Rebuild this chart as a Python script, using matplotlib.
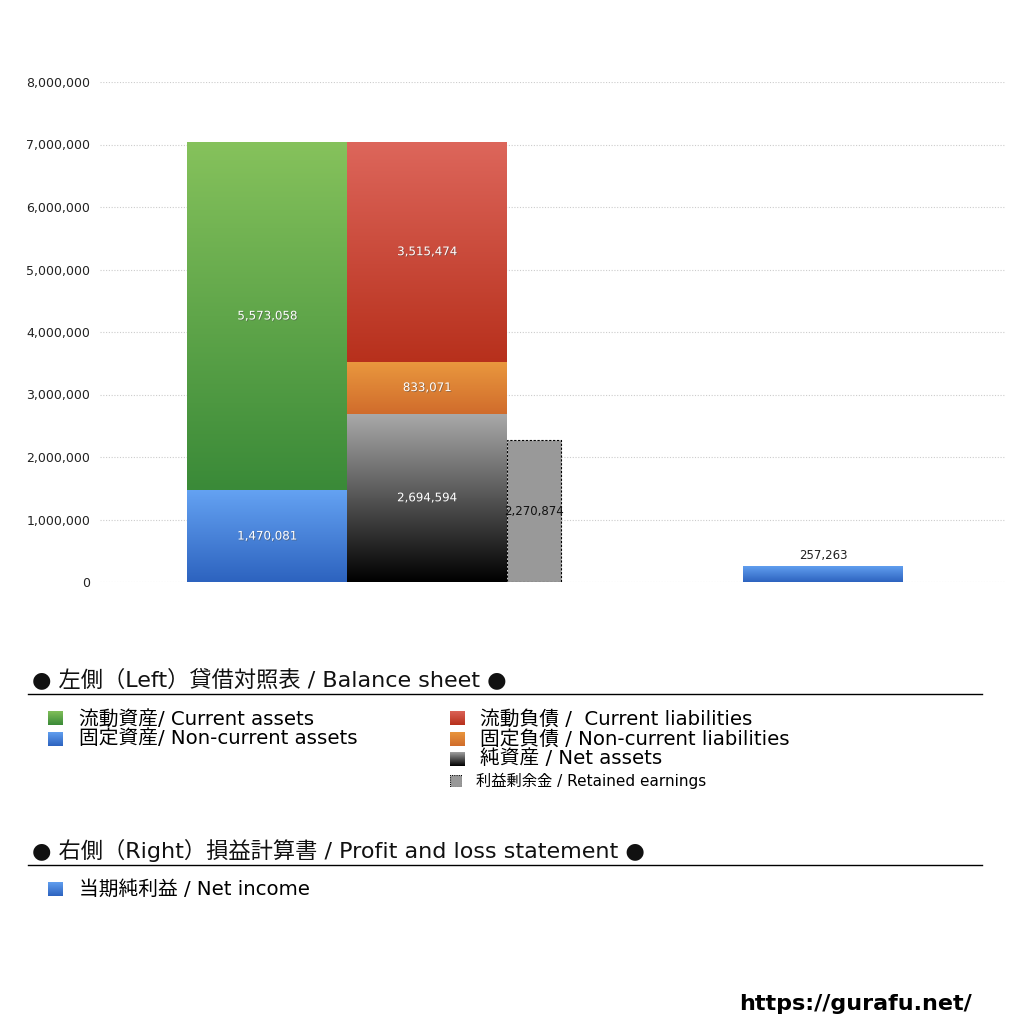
import numpy as np
import matplotlib
matplotlib.use("Agg")
import matplotlib.pyplot as plt
from matplotlib.colors import LinearSegmentedColormap
from matplotlib.patches import Rectangle
import matplotlib.patheffects as pe

plt.rcParams['font.family'] = ['DejaVu Sans', 'Noto Sans CJK JP']

# data
current_assets = 5573058
noncurrent_assets = 1470081
current_liab = 3515474
noncurrent_liab = 833071
net_assets = 2694594
retained_earnings = 2270874
net_income = 257263
yticks = [0, 1000000, 2000000, 3000000, 4000000, 5000000, 6000000, 7000000, 8000000]

colors = {
    'green': ('#86c25c', '#3a8a38'),
    'blue': ('#64a2f2', '#2d63bf'),
    'red': ('#dd665b', '#b7301c'),
    'orange': ('#ea983e', '#d06c2c'),
    'black': ('#aaaaaa', '#000000'),
}

fig = plt.figure(figsize=(10.24, 10.24), dpi=100)
ax = fig.add_axes([100/1024, 1 - 582/1024, 905/1024, 500/1024])


def grad_bar(ax, x, bottom, height, width, cols, label=None, tcolor='white'):
    top_c, bot_c = cols
    bar = ax.bar(x, height, width, bottom=bottom, align='edge', color='none', linewidth=0)[0]
    cmap = LinearSegmentedColormap.from_list('g', [bot_c, top_c])
    grad = np.linspace(0, 1, 256).reshape(-1, 1)
    im = ax.imshow(grad, cmap=cmap, origin='lower', aspect='auto',
                   extent=[x, x + width, bottom, bottom + height], zorder=2)
    im.set_clip_path(bar)
    if label is not None:
        ax.text(x + width / 2, bottom + height / 2, label, ha='center', va='center',
                color=tcolor, fontsize=8.5, zorder=5,
                path_effects=[pe.withSimplePatchShadow(offset=(0.6, -0.6), alpha=0.5)])


fmt = lambda v: f"{v:,}"

# left: assets
grad_bar(ax, 187, 0, noncurrent_assets, 160, colors['blue'], fmt(noncurrent_assets))
grad_bar(ax, 187, noncurrent_assets, current_assets, 160, colors['green'], fmt(current_assets))
# left: liabilities + net assets
grad_bar(ax, 347, 0, net_assets, 160, colors['black'], fmt(net_assets))
grad_bar(ax, 347, net_assets, noncurrent_liab, 160, colors['orange'], fmt(noncurrent_liab))
grad_bar(ax, 347, net_assets + noncurrent_liab, current_liab, 160, colors['red'], fmt(current_liab))
# retained earnings
ax.bar(507, retained_earnings, 54, align='edge', color='#999999', edgecolor='black',
       linestyle=(0, (2, 1.5)), linewidth=0.8, zorder=3)
ax.text(507 + 27, retained_earnings / 2, fmt(retained_earnings), ha='center', va='center',
        fontsize=8.5, color='#111111', zorder=5)
# right: net income
grad_bar(ax, 743, 0, net_income, 160, colors['blue'])
ax.text(743 + 80, net_income + 60000, fmt(net_income), ha='center', va='bottom',
        fontsize=8.5, color='#222222')

ax.set_xlim(100, 1005)
ax.set_ylim(0, 8000000)
ax.set_yticks(yticks)
ax.set_yticklabels([fmt(v) for v in yticks], fontsize=9, color='#222222')
ax.set_xticks([])
ax.tick_params(axis='y', length=0, pad=7)
for s in ax.spines.values():
    s.set_visible(False)
ax.yaxis.grid(True, linestyle=(0, (1, 1.5)), color='#cccccc', linewidth=0.8)
ax.set_axisbelow(True)


# legend area (figure pixel coordinates)
def fy(py):
    return 1 - py / 1024


def fx(px):
    return px / 1024


def legend_square(px, py, cols, size=15, dashed=False):
    lax = fig.add_axes([fx(px), fy(py + size / 2), size / 1024, size / 1024])
    lax.set_axis_off()
    if dashed:
        lax.add_patch(Rectangle((0, 0), 1, 1, facecolor='#999999', edgecolor='black',
                                linestyle=(0, (1, 1)), linewidth=0.8, transform=lax.transAxes))
    else:
        cmap = LinearSegmentedColormap.from_list('g', [cols[1], cols[0]])
        lax.imshow(np.linspace(0, 1, 64).reshape(-1, 1), cmap=cmap, origin='lower',
                   aspect='auto', extent=[0, 1, 0, 1])
    lax.set_xlim(0, 1)
    lax.set_ylim(0, 1)


head_fs = 16
item_fs = 14.2

fig.text(fx(32), fy(679), '● 左側（Left）貸借対照表 / Balance sheet ●', fontsize=head_fs,
         va='center', ha='left', color='#111111')
fig.add_artist(plt.Line2D([fx(28), fx(982)], [fy(694), fy(694)], color='black', linewidth=1))

legend_square(48, 718, colors['green'])
fig.text(fx(79), fy(719), '流動資産/ Current assets', fontsize=item_fs, va='center')
legend_square(48, 739, colors['blue'])
fig.text(fx(79), fy(739), '固定資産/ Non-current assets', fontsize=item_fs, va='center')
legend_square(450, 718, colors['red'])
fig.text(fx(480), fy(719), '流動負債 /  Current liabilities', fontsize=item_fs, va='center')
legend_square(450, 739, colors['orange'])
fig.text(fx(480), fy(739), '固定負債 / Non-current liabilities', fontsize=item_fs, va='center')
legend_square(450, 759, colors['black'])
fig.text(fx(480), fy(759), '純資産 / Net assets', fontsize=item_fs, va='center')
legend_square(450, 781, None, size=12, dashed=True)
fig.text(fx(476), fy(781), '利益剰余金 / Retained earnings', fontsize=11, va='center')

fig.text(fx(32), fy(850), '● 右側（Right）損益計算書 / Profit and loss statement ●', fontsize=head_fs,
         va='center', ha='left', color='#111111')
fig.add_artist(plt.Line2D([fx(28), fx(982)], [fy(865), fy(865)], color='black', linewidth=1))

legend_square(48, 889, colors['blue'])
fig.text(fx(79), fy(889), '当期純利益 / Net income', fontsize=item_fs, va='center')

fig.text(fx(972), fy(1004), 'https://gurafu.net/', fontsize=16, fontweight='bold',
         ha='right', va='center', family='DejaVu Sans')

fig.savefig('out.png', dpi=100)
